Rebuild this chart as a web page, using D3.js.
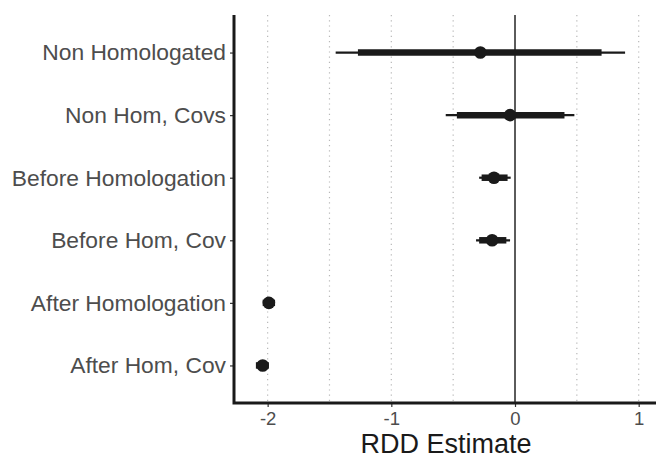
<!DOCTYPE html>
<html>
<head>
<meta charset="utf-8">
<script src="https://cdn.jsdelivr.net/npm/d3@7"></script>
<style>
  body { margin: 0; background: #fff; }
  svg { display: block; }
</style>
</head>
<body>
<svg width="656" height="458"></svg>
<script>
// model labels, top to bottom
var models = ["Non Homologated", "Non Hom, Covs", "Before Homologation",
              "Before Hom, Cov", "After Homologation", "After Hom, Cov"];
var estimate = [-0.28, -0.04, -0.17, -0.185, -1.99, -2.04];
var outerLo = [-1.45, -0.56, -0.29, -0.315, -2.02, -2.07];
var outerHi = [0.89, 0.48, -0.035, -0.04, -1.96, -2.01];
var innerLo = [-1.27, -0.47, -0.27, -0.29, -2.04, -2.095];
var innerHi = [0.70, 0.40, -0.06, -0.07, -1.94, -1.99];
var xTicks = [-2, -1, 0, 1];
var xGrid = [-2, -1.5, -1, -0.5, 0.5, 1];

var svg = d3.select('svg');
var plotL = 234, plotR = 656, plotT = 15, plotB = 403;

var x = d3.scaleLinear().domain([-2.272, 1.14]).range([plotL, plotR]);
var y = d3.scalePoint().domain(models).range([plotT, plotB]).padding(0.6);

var rows = models.map(function(m, i) {
  return { m: m, est: estimate[i], olo: outerLo[i], ohi: outerHi[i], ilo: innerLo[i], ihi: innerHi[i] };
});

// dotted vertical grid
svg.append('g').selectAll('line')
  .data(xGrid)
  .enter().append('line')
  .attr('x1', d => x(d)).attr('x2', d => x(d))
  .attr('y1', plotT).attr('y2', plotB)
  .attr('stroke', '#b8b8b8')
  .attr('stroke-width', 1.2)
  .attr('stroke-dasharray', '1.2,4');

// zero line
svg.append('line')
  .attr('x1', x(0)).attr('x2', x(0))
  .attr('y1', plotT).attr('y2', plotB)
  .attr('stroke', '#4a4a4a')
  .attr('stroke-width', 1.8);

var g = svg.append('g');
g.selectAll('.thin').data(rows).enter().append('line')
  .attr('x1', d => x(d.olo)).attr('x2', d => x(d.ohi))
  .attr('y1', d => y(d.m)).attr('y2', d => y(d.m))
  .attr('stroke', '#1a1a1a').attr('stroke-width', 2.2);
g.selectAll('.thick').data(rows).enter().append('line')
  .attr('x1', d => x(d.ilo)).attr('x2', d => x(d.ihi))
  .attr('y1', d => y(d.m)).attr('y2', d => y(d.m))
  .attr('stroke', '#1a1a1a').attr('stroke-width', 6.5);
g.selectAll('circle').data(rows).enter().append('circle')
  .attr('cx', d => x(d.est)).attr('cy', d => y(d.m))
  .attr('r', 6.3)
  .attr('fill', '#1a1a1a');

var font = 'Liberation Sans, Arial, sans-serif';

// axes
var yAxis = svg.append('g')
  .attr('transform', `translate(${plotL},0)`)
  .call(d3.axisLeft(y).tickSize(4).tickPadding(4));
yAxis.select('.domain').remove();
yAxis.selectAll('.tick line').attr('stroke', '#333').attr('stroke-width', 1.2);
yAxis.selectAll('text')
  .attr('fill', '#4d4d4d')
  .style('font-family', font)
  .style('font-size', '22.8px');

var xAxis = svg.append('g')
  .attr('transform', `translate(0,${plotB})`)
  .call(d3.axisBottom(x).tickValues(xTicks).tickFormat(d => String(d)).tickSize(4).tickPadding(5));
xAxis.select('.domain').remove();
xAxis.selectAll('.tick line').attr('stroke', '#333').attr('stroke-width', 1.2);
xAxis.selectAll('text')
  .attr('fill', '#4d4d4d')
  .style('font-family', font)
  .style('font-size', '18.5px');

// axis lines drawn by hand for the thick look
svg.append('path')
  .attr('d', `M${plotL},${plotT}V${plotB}H${plotR}`)
  .attr('fill', 'none')
  .attr('stroke', '#1a1a1a')
  .attr('stroke-width', 3);

svg.append('text')
  .attr('x', 446).attr('y', 453)
  .attr('text-anchor', 'middle')
  .attr('fill', '#1a1a1a')
  .style('font-family', font)
  .style('font-size', '27px')
  .text('RDD Estimate');
</script>
</body>
</html>
